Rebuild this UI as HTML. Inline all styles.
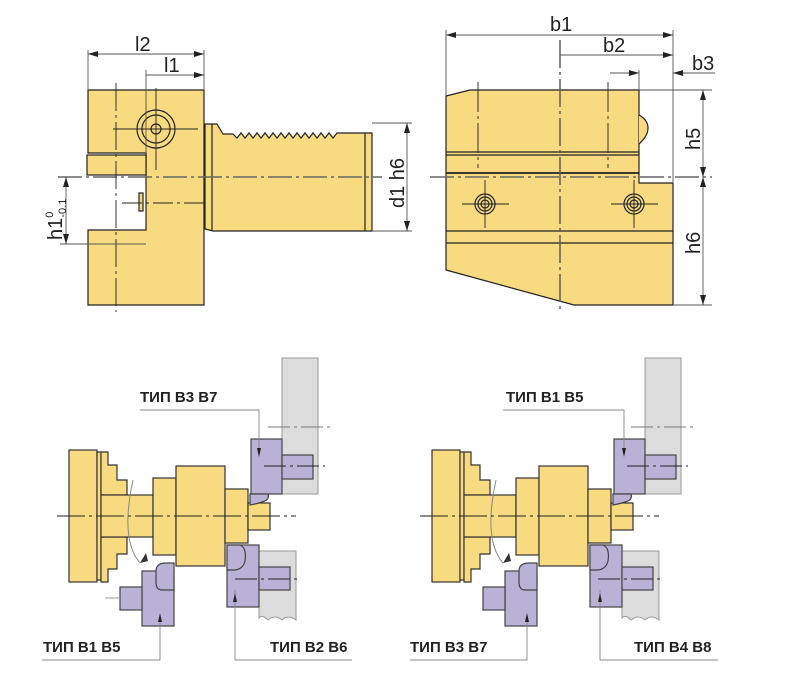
<!DOCTYPE html>
<html><head><meta charset="utf-8"><style>
html,body{margin:0;padding:0;background:#fff}
svg{display:block}
text{font-family:"Liberation Sans",sans-serif;fill:#222}
.b{font-weight:bold;font-size:15px}
</style></head><body>
<svg width="790" height="681" viewBox="0 0 790 681" xmlns="http://www.w3.org/2000/svg">
<defs>
<marker id="a" viewBox="0 0 10 6" refX="10" refY="3" markerWidth="10" markerHeight="6" orient="auto-start-reverse" markerUnits="userSpaceOnUse"><path d="M0,0L10,3L0,6z" fill="#222"/></marker>
</defs>
<g stroke="#222" stroke-width="1.2" fill="#f8da80">
<polygon points="88,90 204,90 204,305 88,305 88,230 146,230 146,153 88,153"/>
<rect x="87" y="155" width="59" height="20"/>
<polygon points="205,124 217,124 223,134 233,134 237,138 241,133 245,138 249,133 253,138 257,133 261,138 265,133 269,138 273,133 277,138 281,133 285,138 289,133 293,138 297,133 301,138 305,133 309,138 313,133 317,138 321,133 325,138 329,133 333,138 337,133 372,133 372,231 213,231 205,229"/>
<line x1="212" y1="124" x2="212" y2="231"/><line x1="365" y1="133" x2="365" y2="231"/>
<circle cx="156" cy="129" r="19" fill="none"/><circle cx="156" cy="129" r="14" fill="none"/><circle cx="156" cy="129" r="5" fill="none"/>
<rect x="139" y="193" width="4" height="18"/>
<polygon points="446,96 470,90 639,90 639,183 673,183 673,305 574,305 446,270"/>
<path d="M639,115 Q648,120 648,128 Q648,136 639,144"/>
<line x1="446" y1="152" x2="639" y2="152"/><line x1="446" y1="155" x2="639" y2="155"/>
<line x1="446" y1="173" x2="639" y2="173" stroke-width="1.8"/>
<line x1="446" y1="231" x2="673" y2="231"/><line x1="446" y1="243" x2="673" y2="243"/>
<g fill="none"><circle cx="485" cy="204" r="10"/><circle cx="485" cy="204" r="7"/><circle cx="485" cy="204" r="4"/>
<circle cx="634" cy="204" r="10"/><circle cx="634" cy="204" r="7"/><circle cx="634" cy="204" r="4"/></g>
</g>
<g stroke="#222" stroke-width="0.9" fill="none">
<line x1="58" y1="177" x2="382" y2="177" stroke="#666" stroke-width="1.5" stroke-dasharray="24,4,3,4"/>
<line x1="116" y1="83" x2="116" y2="312" stroke-dasharray="28,4,3,4"/>
<line x1="113" y1="129" x2="198" y2="129"/><line x1="156" y1="88" x2="156" y2="170"/>
<line x1="122" y1="203" x2="207" y2="203" stroke-dasharray="20,4,3,4"/>
<line x1="430" y1="177" x2="712" y2="177" stroke="#666" stroke-width="1.5" stroke-dasharray="24,4,3,4"/>
<line x1="560" y1="40" x2="560" y2="313" stroke="#555" stroke-width="1.4" stroke-dasharray="28,4,3,4"/>
<line x1="478" y1="82" x2="478" y2="168" stroke-dasharray="30,4,3,4"/>
<line x1="608" y1="82" x2="608" y2="168" stroke-dasharray="30,4,3,4"/>
<line x1="462" y1="204" x2="509" y2="204"/><line x1="485" y1="180" x2="485" y2="228"/>
<line x1="611" y1="204" x2="658" y2="204"/><line x1="634" y1="180" x2="634" y2="228"/>
</g>
<g stroke="#555" stroke-width="0.9" fill="none">
<line x1="88" y1="50" x2="88" y2="90"/><line x1="204" y1="50" x2="204" y2="90"/><line x1="146" y1="70" x2="146" y2="153"/>
<line x1="88" y1="54" x2="204" y2="54" marker-start="url(#a)" marker-end="url(#a)"/>
<line x1="146" y1="75" x2="204" y2="75" marker-end="url(#a)"/>
<line x1="372" y1="123" x2="412" y2="123"/><line x1="372" y1="231" x2="412" y2="231"/>
<line x1="407" y1="123" x2="407" y2="231" marker-start="url(#a)" marker-end="url(#a)"/>
<line x1="60" y1="244" x2="146" y2="244"/>
<line x1="66" y1="177" x2="66" y2="244" marker-start="url(#a)" marker-end="url(#a)"/>
<line x1="446" y1="30" x2="446" y2="96"/><line x1="673" y1="30" x2="673" y2="183"/><line x1="639" y1="70" x2="639" y2="90"/>
<line x1="446" y1="35" x2="673" y2="35" marker-start="url(#a)" marker-end="url(#a)"/>
<line x1="560" y1="55" x2="673" y2="55" marker-end="url(#a)"/>
<line x1="610" y1="73" x2="639" y2="73" marker-end="url(#a)"/>
<line x1="715" y1="73" x2="673" y2="73" marker-end="url(#a)"/>
<line x1="639" y1="90" x2="712" y2="90"/><line x1="673" y1="305" x2="712" y2="305"/>
<line x1="703" y1="90" x2="703" y2="177" marker-start="url(#a)" marker-end="url(#a)"/>
<line x1="703" y1="177" x2="703" y2="305" marker-start="url(#a)" marker-end="url(#a)"/>
</g>
<g font-size="20">
<text x="135" y="51">l2</text><text x="164" y="72">l1</text>
<text x="550" y="31">b1</text><text x="603" y="52">b2</text><text x="692" y="70">b3</text>
<text transform="translate(404,208) rotate(-90)">d1  h6</text>
<text transform="translate(700,150) rotate(-90)">h5</text>
<text transform="translate(700,254) rotate(-90)">h6</text>
<text transform="translate(62,240) rotate(-90)">h1<tspan font-size="11" dy="-9">0</tspan><tspan font-size="11" dx="-6" dy="13">-0.1</tspan></text>
</g>
<g id="sc">
<g stroke="#999" stroke-width="1" fill="#dcdcdc">
<rect x="282" y="358" width="36" height="136"/>
<path d="M259,551 L296,551 L296,620 Q288,614 282,620 Q275,614 268,620 Q262,614 259,618 Z"/>
</g>
<g stroke="#333" stroke-width="1.2" fill="#f8da80">
<rect x="69" y="450" width="28" height="132"/>
<rect x="97" y="452" width="4" height="128"/>
<polygon points="101,452 108,452 108,465 117,465 117,480 127,480 127,495 101,495"/>
<polygon points="101,582 108,582 108,569 117,569 117,554 127,554 127,537 101,537"/>
<rect x="101" y="495" width="52" height="42"/>
<rect x="153" y="478" width="23" height="77"/>
<rect x="176" y="466" width="49" height="100"/>
<rect x="225" y="489" width="23" height="54"/>
<rect x="248" y="503" width="22" height="27"/>
</g>
<g stroke="#444" stroke-width="1.2" fill="#b9b2d6">
<rect x="251" y="439" width="31" height="55"/>
<rect x="282" y="455" width="31" height="24"/>
<path d="M250,494 L268,494 Q270,500 262,502 Q256,504 250,505 Z"/>
<rect x="142" y="571" width="32" height="55"/>
<rect x="120" y="587" width="22" height="23"/>
<path d="M156,571 Q156,563 166,563 L174,563 L174,590 L162,590 Q156,590 156,582 Z"/>
<rect x="227" y="545" width="32" height="62"/>
<rect x="259" y="567" width="31" height="23"/>
<path d="M227,545 L240,545 Q247,548 245,561 Q243,569 235,570 L227,570 Z"/>
</g>
<path d="M133,480 Q120,540 140,563" stroke="#888" stroke-width="1" fill="none"/>
<path d="M140,563 L146,553 L148,561z" fill="#333"/>
<g stroke="#222" stroke-width="0.9">
<line x1="57" y1="516" x2="296" y2="516" stroke-dasharray="28,4,3,4"/>
<line x1="264" y1="466" x2="325" y2="466" stroke-dasharray="22,4,3,4"/>
<line x1="235" y1="579" x2="297" y2="579" stroke-dasharray="22,4,3,4"/>
<line x1="268" y1="427" x2="330" y2="427" stroke="#777" stroke-dasharray="22,4,3,4"/>
</g>
</g>
<use href="#sc" transform="translate(363,0)"/>
<g stroke="#888" stroke-width="0.9" fill="none">
<polyline points="140,410 259,410 259,455"/>
<polyline points="42,660 160,660 160,615"/>
<polyline points="235,590 235,660 352,660"/>
<polyline points="503,410 624,410 624,455"/>
<polyline points="410,660 527,660 527,615"/>
<polyline points="600,590 600,660 718,660"/>
<line x1="105" y1="598" x2="120" y2="598"/>
</g>
<g fill="#222">
<path d="M257,448 L261,448 L259,457z"/><path d="M158,622 L162,622 L160,613z"/><path d="M233,602 L237,602 L235,593z"/>
<path d="M622,448 L626,448 L624,457z"/><path d="M525,622 L529,622 L527,613z"/><path d="M598,602 L602,602 L600,593z"/>
</g>
<text class="b" x="140" y="402">ТИП В3 В7</text>
<text class="b" x="43" y="652">ТИП В1 В5</text>
<text class="b" x="270" y="652">ТИП В2 В6</text>
<text class="b" x="506" y="402">ТИП В1 В5</text>
<text class="b" x="410" y="652">ТИП В3 В7</text>
<text class="b" x="634" y="652">ТИП В4 В8</text>
</svg>
</body></html>
